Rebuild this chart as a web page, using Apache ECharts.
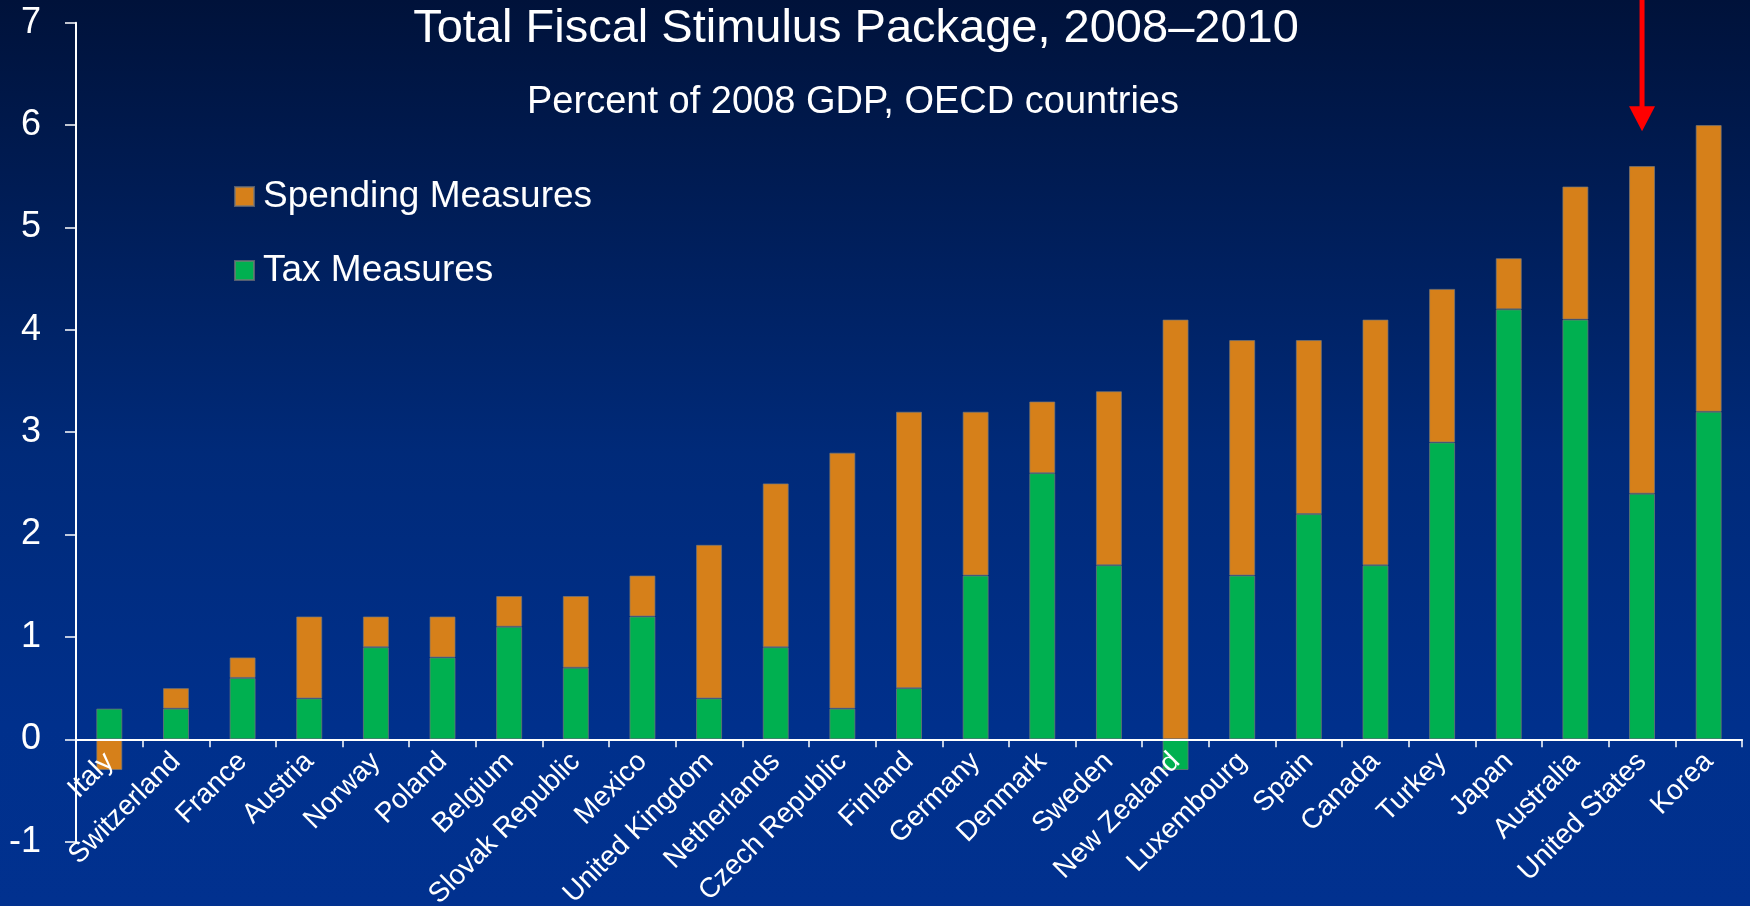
<!DOCTYPE html>
<html>
<head>
<meta charset="utf-8">
<title>Total Fiscal Stimulus Package, 2008–2010</title>
<script src="https://cdn.jsdelivr.net/npm/echarts@6/dist/echarts.min.js"></script>
<style>
  html, body { margin: 0; padding: 0; }
  #chart { width: 1750px; height: 906px; }
</style>
</head>
<body>
<div id="chart"></div>
<script>
// OECD countries, ordered by total package size
const countries = [
  'Italy', 'Switzerland', 'France', 'Austria', 'Norway', 'Poland', 'Belgium',
  'Slovak Republic', 'Mexico', 'United Kingdom', 'Netherlands', 'Czech Republic',
  'Finland', 'Germany', 'Denmark', 'Sweden', 'New Zealand', 'Luxembourg', 'Spain',
  'Canada', 'Turkey', 'Japan', 'Australia', 'United States', 'Korea'
];

// Percent of 2008 GDP
const taxMeasures = [
  0.3, 0.3, 0.6, 0.4, 0.9, 0.8, 1.1, 0.7, 1.2, 0.4, 0.9, 0.3,
  0.5, 1.6, 2.6, 1.7, -0.3, 1.6, 2.2, 1.7, 2.9, 4.2, 4.1, 2.4, 3.2
];
const spendingMeasures = [
  -0.3, 0.2, 0.2, 0.8, 0.3, 0.4, 0.3, 0.7, 0.4, 1.5, 1.6, 2.5,
  2.7, 1.6, 0.7, 1.7, 4.1, 2.3, 1.7, 2.4, 1.5, 0.5, 1.3, 3.2, 2.8
];

const yTicks = { min: -1, max: 7, interval: 1 };

// Highlighted country and the value the arrow points down to
const highlightCountry = 'United States';
const arrowTipValue = 5.94;

const FONT = "'Liberation Sans', Arial, Helvetica, sans-serif";
const ORANGE = '#D6801A';
const GREEN = '#00B050';

const chart = echarts.init(document.getElementById('chart'), null, { renderer: 'canvas' });

const option = {
  animation: false,
  backgroundColor: {
    type: 'linear', x: 0, y: 0, x2: 0, y2: 1,
    colorStops: [
      { offset: 0, color: '#00123A' },
      { offset: 0.5, color: '#002A79' },
      { offset: 0.8, color: '#00308C' },
      { offset: 1, color: '#01318F' }
    ]
  },
  textStyle: { fontFamily: FONT },
  grid: {
    left: 76, right: 8, top: 22.7, bottom: 64.3,
    containLabel: false, outerBoundsMode: 'none'
  },
  legend: {
    orient: 'vertical',
    left: 229,
    top: 173,
    itemWidth: 19,
    itemHeight: 19,
    itemGap: 37,
    icon: 'rect',
    data: ['Spending Measures', 'Tax Measures'],
    textStyle: { color: '#FFFFFF', fontSize: 37, fontFamily: FONT, padding: [0, 0, 0, 4] }
  },
  xAxis: {
    type: 'category',
    data: countries,
    position: 'bottom',
    offset: 0,
    z: 5,
    axisLine: { onZero: false, lineStyle: { color: '#FFFFFF', width: 2 } },
    axisTick: { show: true, interval: 0, length: 8, lineStyle: { color: '#FFFFFF', width: 1.5 } },
    axisLabel: {
      interval: 0, rotate: 45, margin: 18,
      color: '#FFFFFF', fontSize: 28, fontFamily: FONT
    },
    splitLine: { show: false }
  },
  yAxis: {
    type: 'value',
    min: yTicks.min, max: yTicks.max, interval: yTicks.interval,
    axisLine: { show: true, lineStyle: { color: '#FFFFFF', width: 2 } },
    axisTick: { show: true, length: 11, lineStyle: { color: '#FFFFFF', width: 1.5 } },
    axisLabel: { color: '#FFFFFF', fontSize: 36, fontFamily: FONT, margin: 35 },
    splitLine: { show: false }
  },
  series: [
    {
      name: 'Tax Measures',
      type: 'bar',
      stack: 'total',
      barWidth: 26,
      data: taxMeasures,
      itemStyle: { color: GREEN, borderColor: 'rgba(120,120,120,0.7)', borderWidth: 1 }
    },
    {
      name: 'Spending Measures',
      type: 'bar',
      stack: 'total',
      barWidth: 26,
      data: spendingMeasures,
      itemStyle: { color: ORANGE, borderColor: 'rgba(120,120,120,0.7)', borderWidth: 1 }
    }
  ],
  graphic: [
    {
      type: 'text',
      style: {
        text: 'Total Fiscal Stimulus Package, 2008–2010',
        x: 856, y: 29, align: 'center', verticalAlign: 'middle',
        fill: '#FFFFFF', font: '47px ' + FONT
      }
    },
    {
      type: 'text',
      style: {
        text: 'Percent of 2008 GDP, OECD countries',
        x: 853, y: 103, align: 'center', verticalAlign: 'middle',
        fill: '#FFFFFF', font: '38px ' + FONT
      }
    }
  ]
};

chart.setOption(option);

// Lift the category axis (line, ticks and labels) from the grid bottom to the zero line
const zeroY = chart.convertToPixel({ yAxisIndex: 0 }, 0);
const minY = chart.convertToPixel({ yAxisIndex: 0 }, yTicks.min);
chart.setOption({ xAxis: { offset: zeroY - minY } });

// Red arrow pointing down at the highlighted country's bar
const tip = chart.convertToPixel({ gridIndex: 0 }, [highlightCountry, arrowTipValue]);
const headLen = 25, headHalf = 13, shaftHalf = 2.5;
chart.setOption({
  graphic: option.graphic.concat([
    {
      type: 'rect',
      shape: { x: tip[0] - shaftHalf, y: 0, width: shaftHalf * 2, height: tip[1] - headLen + 1 },
      style: { fill: '#FF0000' },
      z: 100
    },
    {
      type: 'polygon',
      shape: { points: [[tip[0] - headHalf, tip[1] - headLen], [tip[0] + headHalf, tip[1] - headLen], [tip[0], tip[1]]] },
      style: { fill: '#FF0000' },
      z: 100
    }
  ])
});
</script>
</body>
</html>
